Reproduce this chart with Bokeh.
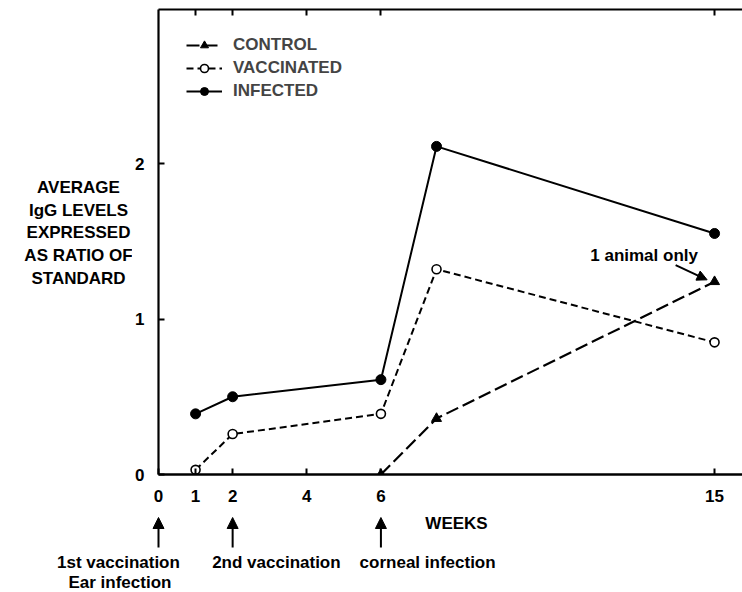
from bokeh.plotting import figure
from bokeh.models import (FixedTicker, LinearAxis, Range1d, Label, Arrow, NormalHead,
                          Legend, LegendItem, ColumnDataSource)
from bokeh.layouts import column, row
from bokeh.core.properties import value
from bokeh.embed import file_html
from bokeh.resources import INLINE

# ---- data ----
weeks_infected = [1, 2, 6, 7.5, 15]
infected = [0.39, 0.50, 0.61, 2.11, 1.55]
weeks_vaccinated = [1, 2, 6, 7.5, 15]
vaccinated = [0.03, 0.26, 0.39, 1.32, 0.85]
weeks_control = [6, 7.5, 15]
control = [0.0, 0.36, 1.24]

x_ticks = [0, 1, 2, 4, 6, 15]
top_ticks = [1, 2, 4, 6, 15]
y_ticks = [0, 1, 2]
event_weeks = [0, 2, 6]
event_texts = [["1st vaccination", "Ear infection"], ["2nd vaccination"], ["corneal infection"]]
ylabel_lines = ["AVERAGE", "IgG LEVELS", "EXPRESSED", "AS RATIO OF", "STANDARD"]
x_title = "WEEKS"
note_text = "1 animal only"

# ---- style / layout constants ----
FONT = "Liberation Sans"
FS = "17px"
W, H = 742, 592
LEFT_W = 132          # width of the y-title panel
TOP_H = 512           # height of the chart row
FRAME_LEFT = 158      # page x of the y axis
FRAME_TOP = 9
FRAME_BOTTOM = 474
PX_WEEK = 37.07
PX_UNIT = 155.5
X_END = (W - FRAME_LEFT) / PX_WEEK
Y_END = (FRAME_BOTTOM - FRAME_TOP) / PX_UNIT

def bare(fig):
    fig.outline_line_color = None
    fig.grid.visible = False
    fig.background_fill_color = "white"
    fig.border_fill_color = "white"
    return fig

# ---- main chart ----
p = bare(figure(width=W - LEFT_W, height=TOP_H, output_backend="svg", toolbar_location=None,
                x_range=Range1d(0, X_END), y_range=Range1d(0, Y_END),
                min_border_left=FRAME_LEFT - LEFT_W, min_border_right=0,
                min_border_top=FRAME_TOP, min_border_bottom=TOP_H - FRAME_BOTTOM,
                x_axis_location=None, y_axis_location=None))

def style_axis(ax, ticks):
    ax.ticker = FixedTicker(ticks=ticks)
    ax.axis_line_width = 2.2
    ax.axis_line_color = "black"
    ax.major_tick_in = 6
    ax.major_tick_out = 0
    ax.major_tick_line_width = 2
    ax.minor_tick_line_color = None
    ax.major_label_text_font = FONT
    ax.major_label_text_font_size = FS
    ax.major_label_text_font_style = "bold"
    ax.major_label_text_color = "black"

xb = LinearAxis()
style_axis(xb, x_ticks)
xb.major_label_standoff = 15
xb.axis_line_width = 2.6
p.add_layout(xb, "below")

yl = LinearAxis()
style_axis(yl, y_ticks)
yl.major_label_standoff = 14
p.add_layout(yl, "left")

xt = LinearAxis()
style_axis(xt, top_ticks)
xt.major_label_text_color = None
xt.major_label_text_font_size = "1px"
xt.major_label_standoff = 0
p.add_layout(xt, "above")

r_inf_l = p.line(weeks_infected, infected, line_color="black", line_width=2)
r_inf_m = p.scatter(weeks_infected, infected, marker="circle", size=10,
                    fill_color="black", line_color="black")
r_vac_l = p.line(weeks_vaccinated, vaccinated, line_color="black", line_width=2,
                 line_dash="7 4")
r_vac_m = p.scatter(weeks_vaccinated, vaccinated, marker="circle", size=9,
                    fill_color="white", line_color="black", line_width=1.6)
r_con_l = p.line(weeks_control, control, line_color="black", line_width=2.2,
                 line_dash="13 5")
r_con_m = p.scatter(weeks_control, control, marker="triangle", size=10,
                    fill_color="black", line_color="black")

legend = Legend(items=[
    LegendItem(label="CONTROL", renderers=[r_con_l, r_con_m]),
    LegendItem(label="VACCINATED", renderers=[r_vac_l, r_vac_m]),
    LegendItem(label="INFECTED", renderers=[r_inf_l, r_inf_m]),
], location=(28, 373), padding=0, margin=0, spacing=3, glyph_width=36,
   glyph_height=20, label_height=20, label_standoff=11,
   border_line_color=None, background_fill_alpha=0,
   label_text_font=FONT, label_text_font_size=FS, label_text_font_style="bold")
p.add_layout(legend, "center")

p.add_layout(Label(x=13.1, y=1.408, text=note_text, text_font=FONT, text_font_size=FS,
                   text_font_style="bold", text_color="black", text_align="center",
                   text_baseline="middle"))
p.add_layout(Arrow(end=NormalHead(size=10, fill_color="black", line_color="black"),
                   x_start=13.95, y_start=1.346, x_end=weeks_control[-1] - 0.2,
                   y_end=control[-1] + 0.012, line_width=2, line_color="black"))

# ---- y title panel (left); its frame is aligned with the chart frame ----
left = bare(figure(width=LEFT_W, height=TOP_H, output_backend="svg", toolbar_location=None,
                   x_range=Range1d(0, LEFT_W), y_range=Range1d(FRAME_BOTTOM, FRAME_TOP),
                   min_border_left=0, min_border_right=0, min_border_top=FRAME_TOP,
                   min_border_bottom=TOP_H - FRAME_BOTTOM,
                   x_axis_location=None, y_axis_location=None))
ysrc = ColumnDataSource(dict(x=[78] * len(ylabel_lines),
                             y=[187 + 22.7 * i for i in range(len(ylabel_lines))],
                             t=ylabel_lines))
left.text(x="x", y="y", text="t", source=ysrc, text_font=value(FONT), text_font_size=FS,
          text_font_style="bold", text_color="black", text_align="center",
          text_baseline="middle")

# ---- bottom panel: axis title, events ----
BOT_H = H - TOP_H
bot = bare(figure(width=W, height=BOT_H, output_backend="svg", toolbar_location=None,
                  x_range=Range1d(-FRAME_LEFT / PX_WEEK, X_END), y_range=Range1d(BOT_H, 0),
                  min_border=0, x_axis_location=None, y_axis_location=None))
bot.text(x=[8.04], y=[11], text=[x_title], text_font=value(FONT), text_font_size=FS,
         text_font_style="bold", text_color="black", text_align="center",
         text_baseline="middle")
text_dx = [-1.08, 1.18, 1.26]
cx, cy, ct = [], [], []
for wk, texts, dx in zip(event_weeks, event_texts, text_dx):
    bot.add_layout(Arrow(end=NormalHead(size=11, fill_color="black", line_color="black"),
                         x_start=wk, y_start=35, x_end=wk, y_end=5,
                         line_width=2, line_color="black"))
    for j, t in enumerate(texts):
        cx.append(wk + dx + 0.04 * j)
        cy.append(49.5 + 20.5 * j)
        ct.append(t)
bot.text(x=cx, y=cy, text=ct, text_font=value(FONT), text_font_size=FS,
         text_font_style="bold", text_color="black", text_align="center",
         text_baseline="middle")

layout = column(row(left, p), bot)
open("out.html", "w").write(file_html(layout, INLINE))
